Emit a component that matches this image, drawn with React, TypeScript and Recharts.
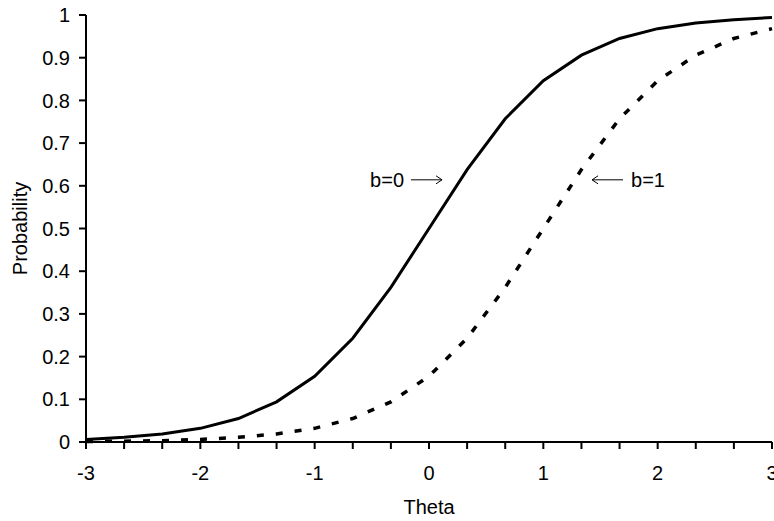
import { LineChart, Line, XAxis, YAxis, ReferenceDot } from 'recharts';

// theta grid (step 1/3)
const theta = [-3, -8 / 3, -7 / 3, -2, -5 / 3, -4 / 3, -1, -2 / 3, -1 / 3, 0, 1 / 3, 2 / 3, 1, 4 / 3, 5 / 3, 2, 7 / 3, 8 / 3, 3];
// probabilities
const probB0 = [0.006, 0.011, 0.019, 0.032, 0.055, 0.094, 0.154, 0.243, 0.362, 0.5, 0.638, 0.757, 0.846, 0.906, 0.945, 0.968, 0.981, 0.989, 0.994];
const probB1 = [0.001, 0.002, 0.003, 0.006, 0.011, 0.019, 0.032, 0.055, 0.094, 0.154, 0.243, 0.362, 0.5, 0.638, 0.757, 0.846, 0.906, 0.945, 0.968];

const xTicks = theta;
const yTicks = [0, 0.1, 0.2, 0.3, 0.4, 0.5, 0.6, 0.7, 0.8, 0.9, 1];

const data = theta.map((t, i) => ({ theta: t, b0: probB0[i], b1: probB1[i] }));

const FONT = '"Liberation Sans", Arial, sans-serif';

const fmtX = (v: number) => (Math.abs(v - Math.round(v)) < 1e-6 ? String(Math.round(v)) : '');

// arrow pointing right, tip at the dot
const ArrowRight = ({ cx, cy, text }: any) => (
    <g>
        <text x={cx - 38} y={cy + 7} textAnchor="end" fontSize={20} fontFamily={FONT} fill="#000">{text}</text>
        <line x1={cx - 31} y1={cy} x2={cx} y2={cy} stroke="#000" strokeWidth={1} />
        <polyline points={`${cx - 6},${cy - 4} ${cx},${cy} ${cx - 6},${cy + 4}`} fill="none" stroke="#000" strokeWidth={1} />
    </g>
);

// arrow pointing left, tip at the dot
const ArrowLeft = ({ cx, cy, text }: any) => (
    <g>
        <line x1={cx} y1={cy} x2={cx + 31} y2={cy} stroke="#000" strokeWidth={1} />
        <polyline points={`${cx + 6},${cy - 4} ${cx},${cy} ${cx + 6},${cy + 4}`} fill="none" stroke="#000" strokeWidth={1} />
        <text x={cx + 39} y={cy + 7} textAnchor="start" fontSize={20} fontFamily={FONT} fill="#000">{text}</text>
    </g>
);

export default function App() {
    const tickStyle = { fill: '#000', fontSize: 20, fontFamily: FONT };
    return (
        <div style={{ position: 'absolute', left: 0, top: 0, background: '#fff' }}>
            <LineChart width={774} height={521} data={data} margin={{ top: 15, right: 2, bottom: 0, left: 0 }}>
                <XAxis
                    dataKey="theta"
                    type="number"
                    domain={[-3, 3]}
                    ticks={xTicks}
                    tickFormatter={fmtX}
                    interval={0}
                    height={79}
                    tick={tickStyle}
                    tickSize={7}
                    tickMargin={17}
                    axisLine={{ stroke: '#000', strokeWidth: 2 }}
                    tickLine={{ stroke: '#000', strokeWidth: 2 }}
                    label={{ value: 'Theta', position: 'insideBottom', offset: 7, fill: '#000', fontSize: 20, fontFamily: FONT }}
                />
                <YAxis
                    type="number"
                    domain={[0, 1]}
                    ticks={yTicks}
                    interval={0}
                    width={86}
                    tick={tickStyle}
                    tickSize={7}
                    tickMargin={9}
                    axisLine={{ stroke: '#000', strokeWidth: 2 }}
                    tickLine={{ stroke: '#000', strokeWidth: 2 }}
                    label={{ value: 'Probability', angle: -90, position: 'insideLeft', offset: 20, fill: '#000', fontSize: 20, fontFamily: FONT, style: { textAnchor: 'middle' } }}
                />
                <Line dataKey="b0" type="linear" stroke="#000" strokeWidth={3} dot={false} isAnimationActive={false} />
                <Line dataKey="b1" type="linear" stroke="#000" strokeWidth={3.5} strokeDasharray="7 12" dot={false} isAnimationActive={false} />
                <ReferenceDot x={0.114} y={0.614} r={0} shape={(p: any) => <ArrowRight {...p} text="b=0" />} />
                <ReferenceDot x={1.426} y={0.614} r={0} shape={(p: any) => <ArrowLeft {...p} text="b=1" />} />
            </LineChart>
        </div>
    );
}
